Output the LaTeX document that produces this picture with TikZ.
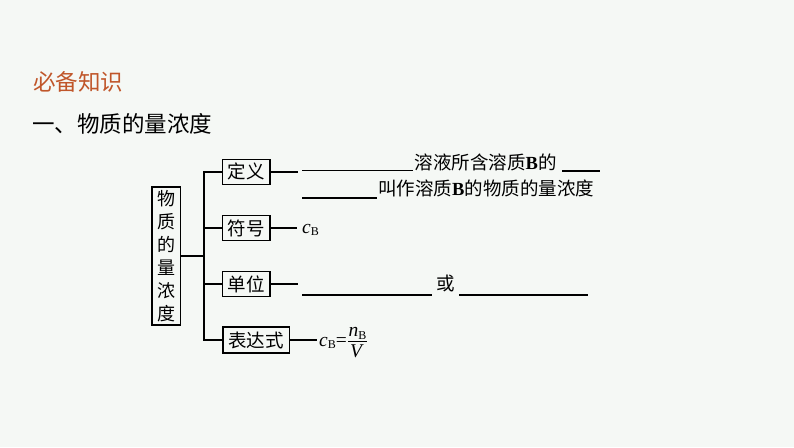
\RequirePackage{fix-cm}
\documentclass[tikz,border=0pt]{standalone}
\usepackage{fontspec}
\setmainfont{Liberation Serif}
\newfontfamily\cjk{Noto Sans CJK SC}
\newcommand{\subB}{\raisebox{-2.5pt}{\fontsize{12}{12}\selectfont B}}
\definecolor{bg}{HTML}{F5F8F5}
\definecolor{titleor}{HTML}{C0562A}
\begin{document}
\begin{tikzpicture}[x=1pt,y=-1pt,
  boxstyle/.style={draw,line width=1.5pt,inner sep=0pt,font=\cjk\fontsize{18.5}{20}\selectfont},
  conn/.style={line width=1.5pt},
  blank/.style={line width=1.3pt},
  txt/.style={inner sep=0pt,anchor=base west,font=\cjk\fontsize{18.5}{20}\selectfont},
  ftxt/.style={inner sep=0pt,font=\fontsize{19.5}{20}\selectfont}]
\fill[bg] (0,0) rectangle (794,447);
\useasboundingbox (0,0) rectangle (794,447);
% titles
\node[anchor=west,inner sep=0pt,text=titleor,font=\cjk\fontsize{22.5}{24}\selectfont] (t1) at (33,82) {必备知识};
\node[anchor=west,inner sep=0pt,font=\cjk\fontsize{22.5}{24}\selectfont] (t2) at (32,124) {一、物质的量浓度};
% main box
\node[boxstyle,minimum width=28.5pt,minimum height=138pt,align=center,font=\cjk\fontsize{18}{23}\selectfont] (main) at (166.3,256) {物\\质\\的\\量\\浓\\度};
% branch boxes
\node[boxstyle,minimum width=47.5pt,minimum height=25pt] (def) at (246.3,171.8) {定义};
\node[boxstyle,minimum width=47.5pt,minimum height=25pt] (sym) at (246.3,228) {符号};
\node[boxstyle,minimum width=47.5pt,minimum height=25pt] (unit) at (246.3,284.2) {单位};
\node[boxstyle,minimum width=66.5pt,minimum height=26pt] (expr) at (256,340) {表达式};
% trunk
\coordinate (jt) at (204,256);
\draw[conn] (main.east) -- (main.east -| jt);
\draw[conn] (def.west) -- (def.west -| jt) -- (expr.west -| jt) -- (expr.west);
\draw[conn] (sym.west -| jt) -- (sym.west);
\draw[conn] (unit.west -| jt) -- (unit.west);
% right stubs
\coordinate (de) at (298,171.8);
\coordinate (se) at (297,228);
\coordinate (ue) at (298,284.2);
\coordinate (ee) at (317,340);
\draw[conn] (def.east) -- (def.east -| de);
\draw[conn] (sym.east) -- (sym.east -| se);
\draw[conn] (unit.east) -- (unit.east -| ue);
\draw[conn] (expr.east) -- (expr.east -| ee);
% definition
\draw[blank] (302,170.7) -- (413,170.7);
\node[txt] (d1) at (414.5,169) {溶液所含溶质{\rmfamily\bfseries B}的};
\draw[blank] (562,171) -- (600,171);
\draw[blank] (302,198) -- (377,198);
\node[txt] (d2) at (378,195) {叫作溶质{\rmfamily\bfseries B}的物质的量浓度};
% symbol
\node[ftxt,anchor=base west] (cb) at (302,233) {\textit{c}\subB};
% unit
\draw[blank] (302,295) -- (432,295);
\node[txt,anchor=base] (or) at (446,290) {或};
\draw[blank] (459,295) -- (588,295);
% expression
\node[ftxt,anchor=base west] (cbe) at (319,346) {\textit{c}\subB=};
\node[ftxt,anchor=base west] (num) at (348.5,336.5) {\textit{n}\subB};
\node[ftxt,anchor=base] (den) at (357,357.5) {\textit{V}};
\coordinate (fb) at (348,341);
\draw[line width=0.9pt] (fb) -- ++(19,0);
\end{tikzpicture}
\end{document}
